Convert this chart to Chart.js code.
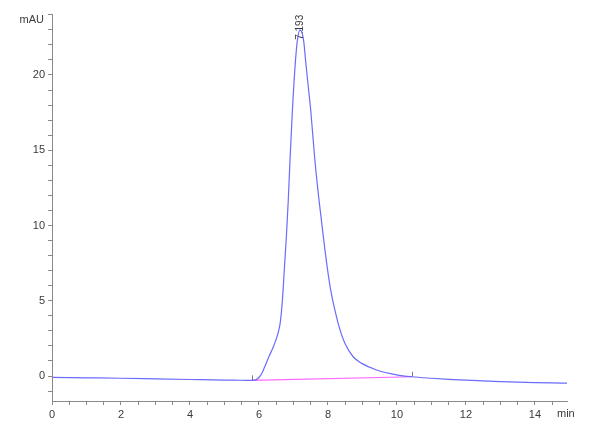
<!DOCTYPE html>
<html>
<head>
<meta charset="utf-8">
<script src="https://cdn.jsdelivr.net/npm/chart.js@4"></script>
<style>
html,body{margin:0;padding:0;background:#fff;}
#c{display:block;}
</style>
</head>
<body>
<canvas id="c" width="600" height="429"></canvas>
<script>
// Chromatogram trace (time in min, signal in mAU)
const times = [0, 1, 2, 3, 4, 5, 5.5, 5.8, 5.9, 6.0, 6.1, 6.2, 6.3, 6.4, 6.5, 6.57, 6.62, 6.68, 6.74, 6.8, 6.85, 6.9, 6.97, 7.06, 7.12, 7.19, 7.25, 7.3, 7.35, 7.43, 7.5, 7.62, 7.75, 7.88, 7.98, 8.08, 8.2, 8.35, 8.49, 8.73, 8.98, 9.41, 9.99, 10.43, 11, 11.5, 12, 12.5, 13, 13.5, 14, 14.5, 14.93];
const signal = [-0.09, -0.12, -0.15, -0.19, -0.23, -0.27, -0.28, -0.29, -0.26, -0.1, 0.25, 0.8, 1.35, 1.85, 2.45, 3.0, 3.6, 5.05, 7.26, 9.48, 11.69, 14.35, 17.67, 21.0, 22.4, 23.0, 22.8, 22.2, 21.0, 19.2, 17.67, 14.35, 11.5, 9.0, 7.2, 5.7, 4.4, 3.06, 2.17, 1.28, 0.84, 0.40, 0.08, -0.05, -0.15, -0.22, -0.27, -0.32, -0.37, -0.41, -0.44, -0.46, -0.47];
// Integration baseline (start and end)
const baseTimes = [5.8, 10.44];
const baseValues = [-0.29, -0.05];
// Peak annotation
const peakTime = 7.193;
const peakValue = 23.0;
const peakLabel = "7.193";
// Axes
const xMin = 0, xMax = 14.93;
const yMin = -1.66, yMax = 24.05;
const xTickValues = [0,0.5,1,1.5,2,2.5,3,3.5,4,4.5,5,5.5,6,6.5,7,7.5,8,8.5,9,9.5,10,10.5,11,11.5,12,12.5,13,13.5,14,14.5];
const xTickLabels = [0,2,4,6,8,10,12,14];
const yTickValues = [-1,0,1,2,3,4,5,6,7,8,9,10,11,12,13,14,15,16,17,18,19,20,21,22,23,24];
const yTickLabels = [0,5,10,15,20];
const yUnit = "mAU";
const xUnit = "min";

const axisColor = '#8a8a8a';
const textColor = '#3a3a3a';
const fontFam = "'Liberation Sans Narrow','Liberation Sans',Arial,sans-serif";

const trace = times.map((t,i)=>({x:t,y:signal[i]}));
const base = baseTimes.map((t,i)=>({x:t,y:baseValues[i]}));

const extras = {
  id:'extras',
  afterDatasetsDraw(chart){
    const ctx = chart.ctx, xs = chart.scales.x, ys = chart.scales.y;
    ctx.save();
    // baseline event ticks
    ctx.strokeStyle = '#777';
    ctx.lineWidth = 1;
    baseTimes.forEach((t,i)=>{
      const px = Math.round(xs.getPixelForValue(t))+0.5;
      const py = ys.getPixelForValue(baseValues[i]);
      ctx.beginPath();
      ctx.moveTo(px, py-5);
      ctx.lineTo(px, py);
      ctx.stroke();
    });
    // peak label, rotated
    ctx.fillStyle = textColor;
    ctx.font = "10px " + fontFam;
    const px = xs.getPixelForValue(peakTime);
    const py = ys.getPixelForValue(peakValue);
    ctx.translate(px+3, py+10);
    ctx.rotate(-Math.PI/2);
    ctx.textAlign = 'left';
    ctx.textBaseline = 'alphabetic';
    ctx.fillText(peakLabel, 0, 0);
    ctx.restore();
    // unit labels
    ctx.save();
    ctx.fillStyle = textColor;
    ctx.font = "11px " + fontFam;
    ctx.textBaseline = 'middle';
    ctx.textAlign = 'right';
    ctx.fillText(yUnit, ys.left + ys.width - 8, chart.chartArea.top + 6);
    ctx.textAlign = 'left';
    ctx.fillText(xUnit, chart.chartArea.right - 10, 414);
    ctx.restore();
  }
};

new Chart(document.getElementById('c'), {
  type:'scatter',
  data:{
    datasets:[
      {data:trace, showLine:true, borderColor:'#6b6bff', borderWidth:1.2, pointRadius:0, cubicInterpolationMode:'monotone', order:1},
      {data:base, showLine:true, borderColor:'#ff66ff', borderWidth:1.2, pointRadius:0, order:2}
    ]
  },
  options:{
    responsive:false,
    animation:false,
    devicePixelRatio:1,
    layout:{padding:{top:14,right:33,left:0,bottom:0}},
    plugins:{legend:{display:false},tooltip:{enabled:false}},
    scales:{
      x:{
        type:'linear', min:xMin, max:xMax,
        afterFit(s){ s.height = 28; },
        afterBuildTicks(s){ s.ticks = xTickValues.map(v=>({value:v})); },
        grid:{drawOnChartArea:false, drawTicks:true, tickLength:4, color:axisColor},
        border:{color:axisColor, width:1},
        ticks:{autoSkip:false, maxRotation:0, padding:3, color:textColor,
          font:{family:fontFam, size:11},
          callback:(v)=> xTickLabels.includes(v) ? String(v) : ''}
      },
      y:{
        type:'linear', min:yMin, max:yMax,
        afterFit(s){ s.width = 52; },
        afterBuildTicks(s){ s.ticks = yTickValues.map(v=>({value:v})); },
        grid:{drawOnChartArea:false, drawTicks:true, tickLength:4, color:axisColor},
        border:{color:axisColor, width:1},
        ticks:{autoSkip:false, padding:3, color:textColor,
          font:{family:fontFam, size:11},
          callback:(v)=> yTickLabels.includes(v) ? String(v) : ''}
      }
    }
  },
  plugins:[extras]
});
</script>
</body>
</html>
